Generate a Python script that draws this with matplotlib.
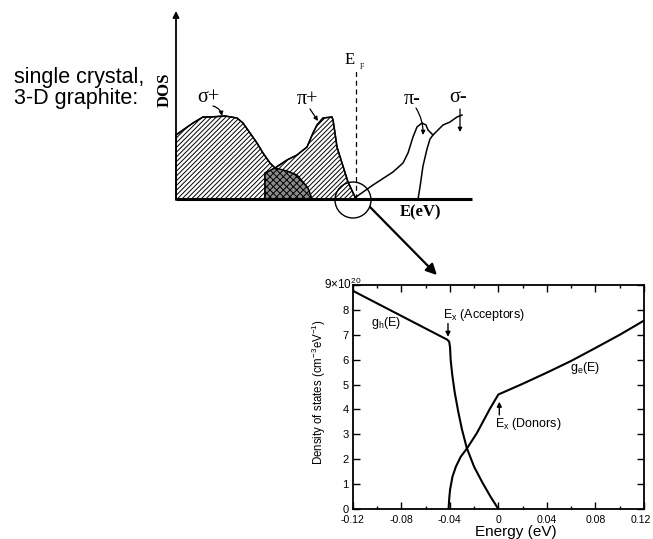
import numpy as np
import matplotlib
matplotlib.use("Agg")
import matplotlib.pyplot as plt
from matplotlib.patches import Polygon, Circle, ConnectionPatch
from matplotlib.transforms import ScaledTranslation

plt.rcParams["font.family"] = ["Liberation Sans", "DejaVu Sans"]
plt.rcParams["mathtext.fontset"] = "custom"
plt.rcParams["mathtext.rm"] = "Liberation Sans"
plt.rcParams["mathtext.it"] = "Liberation Sans:italic"
plt.rcParams["mathtext.bf"] = "Liberation Sans:bold"
plt.rcParams["hatch.linewidth"] = 0.7

SERIF = ["Liberation Serif", "DejaVu Serif"]

# ---- schematic DOS of 3-D graphite (arbitrary units, E_F at 0) ----
sigma_p_E = [-180, -173, -163, -153, -146, -131, -119, -113, -106, -99, -93,
             -86, -81, -69, -59, -53, -48, -44]
sigma_p_D = [64, 69, 76, 82, 82, 83, 81, 76, 66, 56, 46, 36, 31, 28, 24, 17, 11, 0]

pi_p_E = [-91, -91, -81, -69, -59, -49, -43, -39, -33, -24, -23, -21, -19, -14, -8, 0]
pi_p_D = [0, 26, 31, 39, 44, 52, 66, 74, 81, 82, 79, 66, 52, 36, 17, 0]

pi_m_E = [0, 17, 37, 47, 52, 57, 61, 66, 70, 72, 77, 82, 87, 94, 101, 106]
pi_m_D = [2, 14, 27, 36, 46, 62, 72, 76, 74, 69, 64, 69, 74, 77, 82, 84]

sigma_m_E = [62, 64, 67, 71, 74, 77]
sigma_m_D = [0, 12, 33, 50, 60, 64]

# ---- DOS near E_F (energy in eV, DOS in 1e20 cm^-3 eV^-1) ----
gh_E = [-0.12, -0.042, -0.0405, -0.0398, -0.0393, -0.038, -0.036, -0.033,
        -0.030, -0.026, -0.020, -0.013, -0.0065, 0.0]
gh_D = [8.77, 6.8, 6.72, 6.5, 6.0, 5.4, 4.7, 3.9, 3.2, 2.45, 1.7, 1.05, 0.5, 0.0]

ge_E = [-0.041, -0.0405, -0.0398, -0.0378, -0.035, -0.031, -0.0259, -0.0177,
        -0.0067, 0.0, 0.02, 0.04, 0.06, 0.08, 0.10, 0.12]
ge_D = [0.0, 0.4, 0.77, 1.3, 1.7, 2.1, 2.43, 3.05, 4.05, 4.6, 5.03, 5.48, 5.95,
        6.47, 7.0, 7.57]

x_ticks = [-0.12, -0.08, -0.04, 0.0, 0.04, 0.08, 0.12]
x_tick_labels = ["-0.12", "-0.08", "-0.04", "0", "0.04", "0.08", "0.12"]
y_ticks = list(range(10))
y_tick_labels = ["0", "1", "2", "3", "4", "5", "6", "7", "8", ""]

W, H = 653, 539
fig = plt.figure(figsize=(W / 100, H / 100), dpi=100)


def rect(x0, y0, x1, y1):
    return [x0 / W, 1 - y1 / H, (x1 - x0) / W, (y1 - y0) / H]


# ================= upper schematic =================
ax = fig.add_axes(rect(150, 0, 480, 222))
ax.set_xlim(-206, 124)
ax.set_ylim(-23, 199)
ax.axis("off")

sig = Polygon(np.column_stack([sigma_p_E + [sigma_p_E[0]], sigma_p_D + [0]]),
              closed=True, facecolor="white", edgecolor="black", lw=1.0,
              hatch="///////", zorder=1)
ax.add_patch(sig)
pip = Polygon(np.column_stack([pi_p_E, pi_p_D]), closed=True,
              facecolor="white", edgecolor="black", lw=1.0, hatch="///////",
              zorder=1)
ax.add_patch(pip)
overlap = Polygon(np.column_stack([pi_p_E, pi_p_D]), closed=True,
                  facecolor="#8c8c8c", edgecolor="black", lw=0, hatch="xxxxx",
                  zorder=2)
ax.add_patch(overlap)
overlap.set_clip_path(sig)

ax.plot(sigma_p_E, sigma_p_D, color="k", lw=1.1, zorder=3)
ax.plot(pi_p_E, pi_p_D, color="k", lw=1.1, zorder=3)
ax.plot(pi_m_E, pi_m_D, color="k", lw=1.1, zorder=3)
ax.plot(sigma_m_E, sigma_m_D, color="k", lw=1.1, zorder=3)

# axes of the schematic
ax.plot([-180, 116], [0, 0], color="k", lw=2.2, solid_capstyle="butt", zorder=4)
ax.annotate("", xy=(-180, 188), xytext=(-180, -1),
            arrowprops=dict(arrowstyle="-|>", lw=1.3, color="k",
                            mutation_scale=9, shrinkA=0, shrinkB=0))
ax.plot([0, 0], [0, 131], color="k", lw=0.9, ls=(0, (4, 3)), zorder=3)

ax.text(-6, 139, "E", family=SERIF, fontsize=12, ha="center", va="center")
ax.text(6, 132, "F", family=SERIF, fontsize=5.5, ha="center", va="center")
ax.text(-191, 109, "DOS", family=SERIF, fontweight="bold", fontsize=12,
        rotation=90, ha="center", va="center")
ax.text(65, -13, "E(eV)", family=SERIF, fontweight="bold", fontsize=12,
        ha="center", va="center")

labels = [("σ+", (-148, 101), (-143, 93), (-134, 83), -0.3),
          ("π+", (-49, 99), (-46, 90), (-38, 78), 0.0),
          ("π-", (56, 99), (60, 91), (67, 64), -0.15),
          ("σ-", (102, 102), (104, 90), (104, 67), 0.0)]
for txt, pos, tail, tip, rad in labels:
    ax.text(pos[0], pos[1], txt, family=SERIF, fontsize=14.5,
            ha="center", va="center")
    ax.annotate("", xy=tip, xytext=tail,
                arrowprops=dict(arrowstyle="-|>", lw=0.9, color="k",
                                mutation_scale=6, shrinkA=0, shrinkB=0,
                                connectionstyle=f"arc3,rad={rad}"))

ax.add_patch(Circle((-3, -1), 18, fill=False, lw=1.0, edgecolor="k", zorder=5))

fig.text(14 / W, 1 - 88 / H, "single crystal,\n3-D graphite:", fontsize=15.5,
         ha="left", va="center", linespacing=1.0)

# ================= lower plot =================
bx = fig.add_axes(rect(352.7, 285, 644, 509))
bx.plot(gh_E, gh_D, color="k", lw=1.5)
bx.plot(ge_E, ge_D, color="k", lw=1.5)
bx.set_xlim(-0.12, 0.12)
bx.set_ylim(0, 9)
bx.set_xticks(x_ticks)
bx.set_xticklabels(x_tick_labels)
bx.set_xticks(np.arange(-0.10, 0.11, 0.04), minor=True)
bx.set_yticks(y_ticks)
bx.set_yticklabels(y_tick_labels)
for s in bx.spines.values():
    s.set_linewidth(1.3)
bx.tick_params(which="both", direction="in", top=True, right=True, width=1.0)
bx.tick_params(axis="x", labelsize=7.6, pad=4.5)
bx.tick_params(axis="y", labelsize=8, pad=3)
bx.tick_params(which="major", length=5)
bx.tick_params(which="minor", length=2.5)
# keep the last energy label inside the canvas
last = bx.get_xticklabels()[-1]
last.set_transform(last.get_transform()
                   + ScaledTranslation(-3 / 100, 0, fig.dpi_scale_trans))
bx.text(-0.033, 9.02, "9×10$^{20}$", transform=bx.get_yaxis_transform(),
        fontsize=8.5, ha="center", va="center")
bx.set_ylabel("Density of states (cm$^{-3}$eV$^{-1}$)", fontsize=8.3, labelpad=3)
bx.yaxis.set_label_coords(-0.085, 0.52)
bx.set_xlabel("Energy (eV)", fontsize=11, labelpad=0)
bx.xaxis.set_label_coords(0.56, -0.07)

bx.text(-0.0926, 7.47, "g$_\\mathrm{h}$(E)", fontsize=9, ha="center", va="center")
bx.text(-0.0457, 7.8, "E$_\\mathrm{x}$ (Acceptors)", fontsize=9, ha="left",
        va="center")
bx.annotate("", xy=(-0.0415, 6.92), xytext=(-0.0415, 7.45),
            arrowprops=dict(arrowstyle="-|>", lw=1.0, color="k",
                            mutation_scale=7, shrinkA=0, shrinkB=0))
bx.text(0.0714, 5.67, "g$_\\mathrm{e}$(E)", fontsize=9, ha="center", va="center")
bx.text(-0.0028, 3.42, "E$_\\mathrm{x}$ (Donors)", fontsize=9, ha="left",
        va="center")
bx.annotate("", xy=(0.0008, 4.31), xytext=(0.0008, 3.78),
            arrowprops=dict(arrowstyle="-|>", lw=1.0, color="k",
                            mutation_scale=7, shrinkA=0, shrinkB=0))

# arrow from the Fermi-level circle to the enlarged plot
con = ConnectionPatch(xyA=(14, -8), coordsA=ax.transData,
                      xyB=(-0.0506, 9.40), coordsB=bx.transData,
                      arrowstyle="-|>", mutation_scale=16, lw=1.6, color="k",
                      shrinkA=0, shrinkB=0)
fig.add_artist(con)

fig.savefig("out.png", dpi=100)
